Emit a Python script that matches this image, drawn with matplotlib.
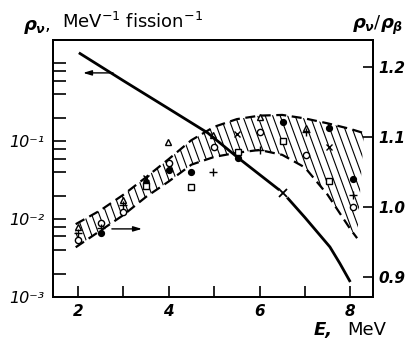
import numpy as np
import matplotlib.pyplot as plt
from matplotlib.patches import Polygon
from matplotlib.collections import LineCollection

plt.rcParams['font.family'] = ['DejaVu Sans']
plt.rcParams['mathtext.fontset'] = 'custom'
plt.rcParams['mathtext.rm'] = 'DejaVu Sans'
plt.rcParams['mathtext.it'] = 'DejaVu Sans:italic:bold'
plt.rcParams['mathtext.bf'] = 'DejaVu Sans:bold'

# antineutrino spectrum per fission (left axis, log scale)
e_spec = [2.02, 3.0, 4.0, 4.86, 5.53, 6.0, 6.52, 7.0, 7.18, 7.55, 7.77, 8.0]
rho_spec = [1.37, 0.60, 0.262, 0.128, 0.0612, 0.0374, 0.0217, 0.0105, 0.0079, 0.0044, 0.0027, 0.00156]
e_cross = [6.52]
rho_cross = [0.0217]

# rho_nu / rho_beta band (right axis)
e_up = [1.95, 2.5, 3.0, 3.5, 4.0, 4.5, 5.0, 5.5, 6.0, 6.5, 7.0, 7.5, 8.0, 8.3]
r_up = [0.975, 0.995, 1.017, 1.042, 1.068, 1.095, 1.114, 1.125, 1.130, 1.131, 1.126, 1.119, 1.111, 1.105]
e_lo = [1.95, 2.5, 3.0, 3.5, 4.0, 4.5, 5.0, 5.5, 6.0, 6.5, 7.0, 7.5, 8.0, 8.15]
r_lo = [0.942, 0.966, 0.988, 1.014, 1.036, 1.060, 1.071, 1.077, 1.081, 1.074, 1.056, 1.017, 0.968, 0.955]

# individual ratio points
e_ocirc = [2.0, 2.5, 3.0, 4.0, 5.0, 6.0, 7.03, 8.07]
r_ocirc = [0.952, 0.976, 0.992, 1.062, 1.085, 1.107, 1.074, 1.000]
e_fcirc = [2.5, 3.5, 4.0, 4.5, 5.53, 6.51, 7.52, 8.07]
r_fcirc = [0.962, 1.034, 1.052, 1.050, 1.070, 1.121, 1.112, 1.040]
e_tri = [2.0, 3.0, 3.98, 4.98, 6.0, 7.03]
r_tri = [0.971, 1.010, 1.092, 1.102, 1.128, 1.112]
e_sq = [3.5, 4.5, 5.53, 6.51, 7.52]
r_sq = [1.029, 1.028, 1.078, 1.094, 1.037]
e_plus = [2.0, 2.5, 3.0, 4.98, 6.02, 7.03, 8.05]
r_plus = [0.962, 0.969, 1.003, 1.050, 1.081, 1.107, 1.017]
e_x = [3.5, 5.5, 7.52]
r_x = [1.041, 1.104, 1.085]

fig = plt.figure(figsize=(4.05, 3.4), dpi=100)
ax = fig.add_axes([53/405, 43/340, 320/405, 257/340])
ax2 = ax.twinx()
ax.set_zorder(ax2.get_zorder() + 1)
ax.patch.set_visible(False)

# spectrum curve
ax.plot(e_spec, rho_spec, color='black', lw=2.0, solid_capstyle='butt', zorder=2)
ax.plot(e_cross, rho_cross, 'o', ms=8, mfc='white', mec='none', zorder=3)
ax.plot(e_cross, rho_cross, 'x', ms=6, mec='black', mew=1.3, zorder=4)

ax.set_yscale('log')
ax.set_xlim(1.45, 8.5)
ax.set_ylim(1e-3, 2.0)
ax.set_yticks([1e-3, 1e-2, 1e-1, 1.0])
ax.set_yticklabels(['10\u207b\u00b3', '10\u207b\u00b2', '10\u207b\u00b9', ''],
                   fontsize=11.5, fontstyle='italic')
ax.yaxis.set_minor_locator(plt.LogLocator(base=10, subs=(2, 4, 6, 8)))
ax.yaxis.set_minor_formatter(plt.NullFormatter())
ax.set_xticks([2, 3, 4, 5, 6, 7, 8])
ax.set_xticklabels(['2', '', '4', '', '6', '', '8'], fontsize=11,
                   fontstyle='italic', fontweight='bold')
ax.tick_params(axis='y', which='both', direction='in', length=9, width=1.2, pad=6)
ax.tick_params(axis='x', which='both', direction='in', length=8, width=1.2, pad=5,
               top=False)

# band
ax2.set_ylim(0.871, 1.238)
poly_xy = list(zip(e_up, r_up)) + list(zip(e_lo[::-1], r_lo[::-1]))
band = Polygon(poly_xy, closed=True, facecolor='none', edgecolor='none',
               transform=ax2.transData)
ax2.add_patch(band)

# steep hatch lines, clipped to the band
slope = 3.4
step = 0.0234
x0s = np.arange(-0.5, 1.05, step)
segs = [[(x0, 1.0), (x0 + 1.0 / slope, 0.0)] for x0 in x0s]
hatch = LineCollection(segs, colors='black', linewidths=0.8,
                       transform=ax2.transAxes, zorder=1)
hatch.set_clip_path(band)
ax2.add_collection(hatch)

dash = (0, (4.5, 2.5))
ax2.plot(e_up, r_up, color='black', lw=1.6, ls=dash, zorder=2)
ax2.plot(e_lo, r_lo, color='black', lw=1.6, ls=dash, zorder=2)

# measured points
ax2.plot(e_ocirc, r_ocirc, 'o', ms=4.5, mfc='white', mec='black', mew=1.0, zorder=3)
ax2.plot(e_fcirc, r_fcirc, 'o', ms=4.2, mfc='black', mec='black', zorder=3)
ax2.plot(e_tri, r_tri, '^', ms=5, mfc='white', mec='black', mew=1.0, zorder=3)
ax2.plot(e_sq, r_sq, 's', ms=4.3, mfc='white', mec='black', mew=1.0, zorder=3)
ax2.plot(e_plus, r_plus, '+', ms=6, mec='black', mew=1.0, zorder=3)
ax2.plot(e_x, r_x, 'x', ms=4.5, mec='black', mew=1.0, zorder=3)

ax2.set_yticks([0.9, 1.0, 1.1, 1.2])
ax2.set_yticklabels(['0.9', '1.0', '1.1', '1.2'], fontsize=11,
                    fontstyle='italic', fontweight='bold')
ax2.tick_params(axis='y', direction='in', length=7, width=1.2, pad=4)

for a in (ax, ax2):
    for s in a.spines.values():
        s.set_linewidth(1.4)

# arrows pointing to the matching axis
arrow = dict(arrowstyle='-|>,head_length=0.5,head_width=0.15', lw=1.0, color='black',
             shrinkA=0, shrinkB=0)
ax.annotate('', xy=(0.094, 0.872), xytext=(0.1875, 0.872), xycoords='axes fraction',
            arrowprops=arrow)
ax.annotate('', xy=(0.278, 0.265), xytext=(0.184, 0.265), xycoords='axes fraction',
            arrowprops=arrow)

# axis titles
fig.text(23/405, 1 - 27/340, r'$\rho_\nu$,', fontsize=13, va='center', ha='left')
fig.text(62/405, 1 - 22/340, r'MeV$^{-1}$ fission$^{-1}$', fontsize=13,
         va='center', ha='left')
fig.text(403/405, 1 - 25/340, r'$\rho_\nu/\rho_\beta$', fontsize=13,
         va='center', ha='right')
fig.text(314/405, 1 - 330/340, 'E,', fontsize=13, fontstyle='italic',
         fontweight='bold', va='center', ha='left')
fig.text(347/405, 1 - 330/340, 'MeV', fontsize=13, va='center', ha='left')

fig.savefig('out.png', dpi=100)
